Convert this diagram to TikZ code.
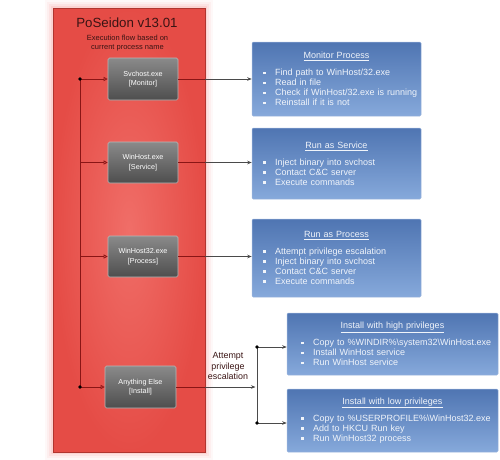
\documentclass[tikz,border=0pt]{standalone}
\usepackage{fontspec}
\setmainfont{Liberation Sans}
\usetikzlibrary{arrows.meta,calc}
\definecolor{rin}{HTML}{F06E68}
\definecolor{rout}{HTML}{E54C46}
\definecolor{redge}{HTML}{B0352F}
\definecolor{glow}{HTML}{F27A78}
\definecolor{dred}{HTML}{8A1515}
\definecolor{gtop}{HTML}{8A8A8A}
\definecolor{gbot}{HTML}{4E4E4E}
\definecolor{gedge}{HTML}{B8B8B8}
\definecolor{btop}{HTML}{4F75B2}
\definecolor{bbot}{HTML}{86A9DB}
\definecolor{bedge}{HTML}{9DB6DD}
\definecolor{btext}{HTML}{F0F4FA}
\definecolor{garr}{HTML}{4A4A4A}
\definecolor{ttl}{HTML}{3A1414}
\newcommand{\bl}[2][7pt]{\hspace*{#1}\mbox{\raisebox{1.7pt}{\rule{2.5pt}{2.5pt}}\hspace{9.5pt}#2}}
\newcommand{\bttl}[1]{\makebox[\linewidth]{\underline{#1}}}
\newcommand{\bfnt}{\fontsize{9}{10}\selectfont}
\begin{document}
\begin{tikzpicture}[x=1pt,y=-1pt,
 grybox/.style={rectangle, rounded corners=1.5pt, top color=gtop, bottom color=gbot, draw=gedge, line width=0.6pt, minimum height=42pt, align=center, text=white, font=\fontsize{7.2}{9.5}\selectfont, inner sep=0pt},
 blubox/.style={rectangle, rounded corners=1.2pt, top color=btop, bottom color=bbot, draw=bedge, line width=0.5pt, text=btext, align=left, font=\bfnt, inner ysep=0pt, inner xsep=4pt},
 redarr/.style={draw=dred, line width=0.7pt, -{Triangle[open,length=4pt,width=4pt]}},
 grayarr/.style={draw=garr, line width=0.7pt, -{Stealth[length=4.5pt,width=3.5pt]}},
 dot/.style={circle, fill=black, inner sep=0pt, minimum size=3.6pt}]
\useasboundingbox (0,0) rectangle (500,459);
% glow
\foreach \g/\op in {8/0.05,6/0.07,4/0.1,2/0.16}
  \fill[glow, opacity=\op] (53-\g,8-\g) rectangle (205+\g,452+\g);
\node[rectangle, minimum width=152pt, minimum height=444pt, inner sep=0pt, shade, inner color=rin, outer color=rout, draw=redge, line width=0.7pt] (red) at (129,230) {};
\node[font=\fontsize{13.3}{16}\selectfont, text=ttl] (title) at (127,23) {PoSeidon v13.01};
\node[align=center, font=\fontsize{7.5}{9.5}\selectfont, text=ttl] (sub) at (127.5,43) {Execution flow based on\\current process name};
% gray boxes
\node[grybox, minimum width=70pt] (g1) at (143,79) {Svchost.exe\\{[Monitor]}};
\node[grybox, minimum width=70pt, minimum height=41pt] (g2) at (143,162.5) {WinHost.exe\\{[Service]}};
\node[grybox, minimum width=70pt, minimum height=41pt] (g3) at (143,256.5) {WinHost32.exe\\{[Process]}};
\node[grybox, minimum width=71pt] (g4) at (140.5,387) {Anything Else\\{[Install]}};
% trunk
\coordinate (t1) at (80,79);
\coordinate (t2) at (g2.west -| t1);
\coordinate (t3) at (g3.west -| t1);
\coordinate (t4) at (g4.west -| t1);
\draw[dred, line width=0.7pt] (t1) -- (t4);
\draw[redarr] (t1) -- (g1.west);
\draw[redarr] (t2) -- (g2.west);
\draw[redarr] (t3) -- (g3.west);
\draw[redarr] (t4) -- (g4.west);
\node[dot] (d1) at (t1) {};
\node[dot] (d4) at (t4) {};
% blue boxes
\node[blubox, minimum width=169pt, minimum height=74pt, text width=161pt] (b1) at (336.5,79) {\bttl{Monitor Process}\\[7pt]
\bl{Find path to WinHost/32.exe}\\
\bl{Read in file}\\
\bl{Check if WinHost/32.exe is running}\\
\bl{Reinstall if it is not}};
\node[blubox, minimum width=169pt, minimum height=71pt, text width=161pt] (b2) at (336.5,163.5) {\bttl{Run as Service}\\[7pt]
\bl{Inject binary into svchost}\\
\bl{Contact C\&C server}\\
\bl{Execute commands}};
\node[blubox, minimum width=169pt, minimum height=78pt, text width=161pt] (b3) at (336.5,258) {\bttl{Run as Process}\\[7pt]
\bl{Attempt privilege escalation}\\
\bl{Inject binary into svchost}\\
\bl{Contact C\&C server}\\
\bl{Execute commands}};
\node[blubox, minimum width=211pt, minimum height=62pt, text width=203pt] (b4) at (392.5,344) {\bttl{Install with high privileges}\\[6pt]
\bl[10pt]{Copy to \%WINDIR\%\textbackslash system32\textbackslash WinHost.exe}\\
\bl[10pt]{Install WinHost service}\\
\bl[10pt]{Run WinHost service}};
\node[blubox, minimum width=211pt, minimum height=63pt, text width=203pt] (b5) at (392.5,420.5) {\bttl{Install with low privileges}\\[6pt]
\bl[10pt]{Copy to \%USERPROFILE\%\textbackslash WinHost32.exe}\\
\bl[10pt]{Add to HKCU Run key}\\
\bl[10pt]{Run WinHost32 process}};
% connectors right
\draw[grayarr] (g1.east) -- (g1.east -| b1.west);
\draw[grayarr] (g2.east) -- (g2.east -| b2.west);
\draw[grayarr] (g3.east) -- (g3.east -| b3.west);
\draw[dred, line width=0.7pt] (g1.east) -- (g1.east -| red.east);
\draw[dred, line width=0.7pt] (g2.east) -- (g2.east -| red.east);
\draw[dred, line width=0.7pt] (g3.east) -- (g3.east -| red.east);
% install branch
\coordinate (j) at (257,387);
\coordinate (jt) at (257,347);
\coordinate (jb) at (257,423);
\draw[grayarr] (g4.east) -- ($(j)+(-1.5,0)$);
\draw[dred, line width=0.7pt] (g4.east) -- (g4.east -| red.east);
\draw[garr, line width=0.7pt] (jt) -- (jb);
\draw[grayarr] (jt) -- (jt -| b4.west);
\draw[grayarr] (jb) -- (jb -| b5.west);
\node[dot] (d5) at (jt) {};
\node[dot] (d6) at (jb) {};
\node[align=center, font=\fontsize{8.9}{10.5}\selectfont, text=ttl] (lbl) at (228,366) {Attempt\\privilege\\escalation};
\end{tikzpicture}
\end{document}
